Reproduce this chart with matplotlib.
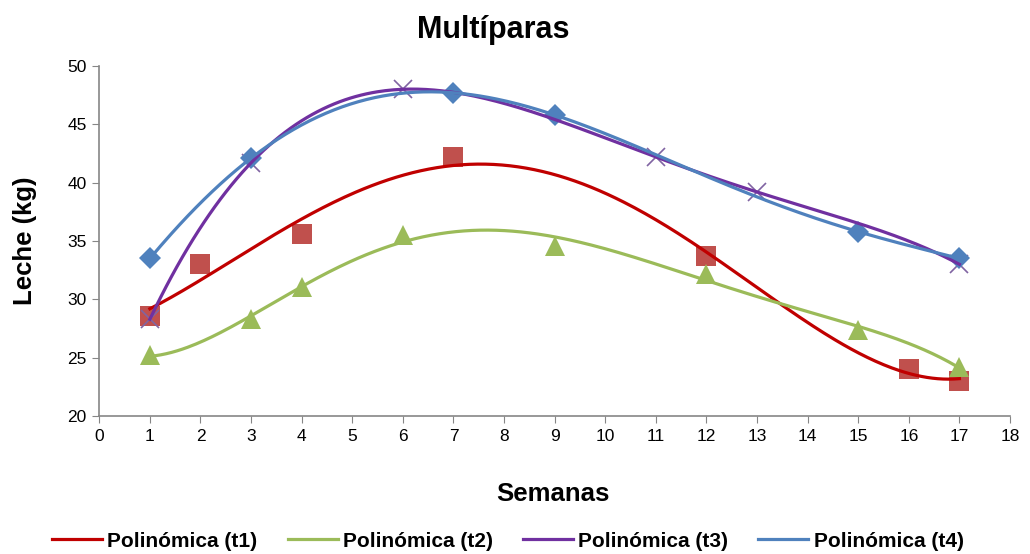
import numpy as np
import matplotlib.pyplot as plt

plt.rcParams["font.family"] = ["Liberation Sans", "DejaVu Sans"]

# weeks and milk yield per group
t1_x = [1, 2, 4, 7, 12, 16, 17]
t1_y = [28.6, 33.0, 35.6, 42.2, 33.7, 24.0, 23.0]

t2_x = [1, 3, 4, 6, 9, 12, 15, 17]
t2_y = [25.2, 28.3, 31.1, 35.5, 34.6, 32.2, 27.4, 24.2]

t3_x = [1, 3, 6, 11, 13, 17]
t3_y = [28.3, 41.7, 48.0, 42.2, 39.2, 33.0]

t4_x = [1, 3, 7, 9, 15, 17]
t4_y = [33.5, 42.1, 47.7, 45.8, 35.8, 33.5]

series = [
    ("t1", t1_x, t1_y, "s", "#C0504D", "#C00000", 14, 4),
    ("t2", t2_x, t2_y, "^", "#9BBB59", "#9BBB59", 15, 5),
    ("t3", t3_x, t3_y, "x", "#8064A2", "#7030A0", 13, 5),
    ("t4", t4_x, t4_y, "D", "#4F81BD", "#4F81BD", 11, 5),
]

fig = plt.figure(figsize=(10.30, 5.54), dpi=100)
ax = fig.add_axes([0.0964, 0.249, 0.8842, 0.632])

for name, xs, ys, mk, mcol, lcol, ms, order in series:
    ax.plot(xs, ys, linestyle="none", marker=mk, color=mcol, markersize=ms,
            markeredgewidth=1.2 if mk == "x" else 0, zorder=2)
    coef = np.polyfit(xs, ys, order)
    xx = np.linspace(min(xs), max(xs), 300)
    ax.plot(xx, np.polyval(coef, xx), color=lcol, linewidth=2.3,
            label=f"Polinómica ({name})", zorder=3)

ax.set_xlim(0, 18)
ax.set_ylim(20, 50)
ax.set_xticks(range(0, 19))
ax.set_yticks(range(20, 51, 5))
ax.tick_params(labelsize=12.5, color="#868686", direction="out", length=5, pad=4)

for side in ["top", "right"]:
    ax.spines[side].set_visible(False)
for side in ["left", "bottom"]:
    ax.spines[side].set_color("#868686")
    ax.spines[side].set_linewidth(1.2)

fig.text(0.479, 0.946, "Multíparas", fontsize=22, fontweight="bold",
         ha="center", va="center")
fig.text(0.024, 0.565, "Leche (kg)", fontsize=18.5, fontweight="bold",
         rotation=90, ha="center", va="center")
fig.text(0.537, 0.108, "Semanas", fontsize=18.5, fontweight="bold",
         ha="center", va="center")

fig.legend(loc="center", ncol=4, frameon=False,
           handlelength=2.4, columnspacing=1.45, handletextpad=0.25,
           prop={"weight": "bold", "size": 15},
           bbox_to_anchor=(0.493, 0.023))

fig.savefig("out.png", dpi=100)
